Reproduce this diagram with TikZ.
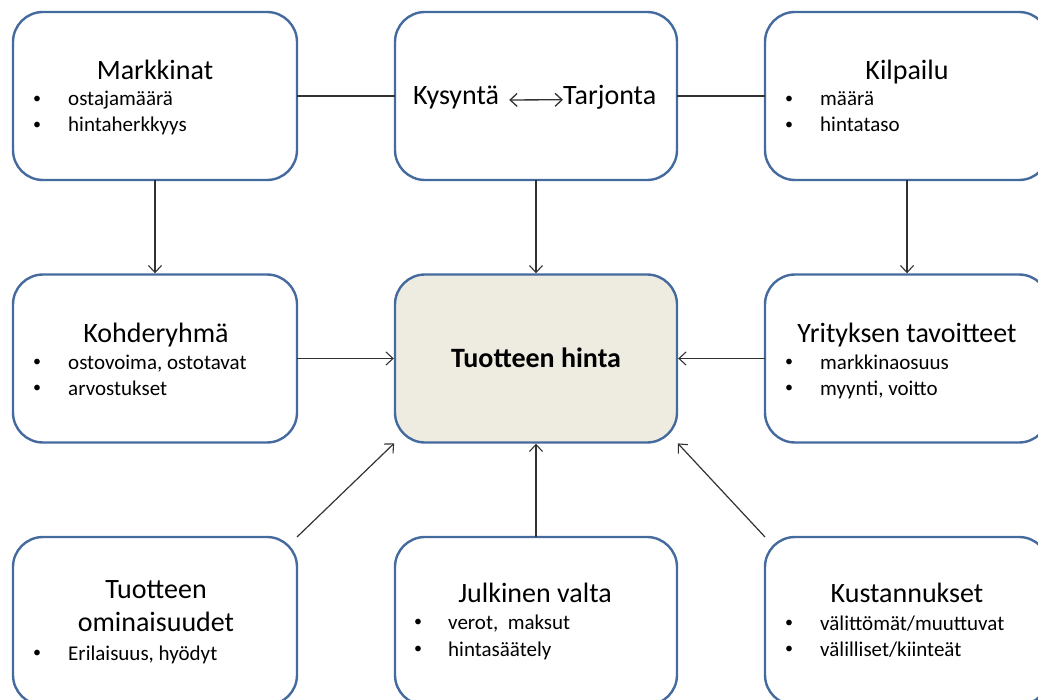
\documentclass[tikz,border=0pt]{standalone}
\usepackage{fontspec}
\setmainfont{Carlito}
\usetikzlibrary{arrows.meta}
\definecolor{boxline}{RGB}{68,106,158}
\definecolor{centerfill}{RGB}{238,236,225}
\definecolor{linkgray}{RGB}{50,50,50}
\begin{document}
\begin{tikzpicture}[x=1pt,y=-1pt,
  factorbox/.style={draw=boxline, line width=2.4pt, fill=white, rounded corners=30pt,
    minimum width=284pt, minimum height=168pt, inner sep=0pt, outer sep=0pt},
  centerbox/.style={factorbox, fill=centerfill, minimum width=282pt},
  title/.style={font=\fontsize{28}{34}\selectfont, anchor=base, inner sep=0pt},
  item/.style={font=\fontsize{21}{25}\selectfont, anchor=base west, inner sep=0pt},
  dot/.style={font=\fontsize{16}{20}\selectfont, anchor=base, inner sep=0pt, yshift=2.6pt},
  link/.style={draw=linkgray, line width=1.2pt},
  flow/.style={link, -{Straight Barb[length=7pt,width=13pt,line width=1.1pt]}, shorten >=1.2pt},
  swap/.style={link, line width=1.3pt,
    {Straight Barb[length=7pt,width=13pt,line width=1.3pt]}-{Straight Barb[length=7pt,width=13pt,line width=1.3pt]}}
]
\useasboundingbox (0,0) rectangle (1038,700);
\clip (0,0) rectangle (1038,700);

% boxes
\node[factorbox] (mark) at (155,96) {};
\node[factorbox, minimum width=282pt] (sd) at (536,96) {};
\node[factorbox] (kil) at (907,96) {};
\node[factorbox] (kohde) at (155,358.5) {};
\node[centerbox] (hinta) at (536,358.5) {};
\node[factorbox] (yri) at (907,358.5) {};
\node[factorbox] (omin) at (155,621) {};
\node[factorbox, minimum width=282pt] (julk) at (536,621) {};
\node[factorbox] (kust) at (907,621) {};

% connectors
\draw[link] (mark.east) -- (sd.west);
\draw[link] (sd.east) -- (kil.west);
\draw[flow] (mark.south) -- (kohde.north);
\draw[flow] (sd.south) -- (hinta.north);
\draw[flow] (kil.south) -- (yri.north);
\draw[flow] (kohde.east) -- (hinta.west);
\draw[flow] (yri.west) -- (hinta.east);
\draw[flow] (omin.north east) -- (hinta.south west);
\draw[flow] (julk.north) -- (hinta.south);
\draw[flow] (kust.north west) -- (hinta.south east);

% Markkinat
\node[title] (markT) at (155,80) {Markkinat};
\node[dot] (markD1) at (37,106) {•};
\node[item] (markI1) at (68,106) {ostajamäärä};
\node[dot] (markD2) at (37,132) {•};
\node[item] (markI2) at (68,132) {hintaherkkyys};

% Kysyntä <-> Tarjonta
\node[title, anchor=base west] (kys) at (413,105) {Kysyntä};
\node[title, anchor=base west] (tar) at (563,105) {Tarjonta};
\draw[swap, shorten <=10pt, transform canvas={yshift=-2pt}] (kys.east) -- (tar.west);

% Kilpailu
\node[title] (kilT) at (907,80) {Kilpailu};
\node[dot] (kilD1) at (789,106) {•};
\node[item] (kilI1) at (820,106) {määrä};
\node[dot] (kilD2) at (789,132) {•};
\node[item] (kilI2) at (820,132) {hintataso};

% Kohderyhmä
\node[title] (kohdeT) at (156,342) {Kohderyhmä};
\node[dot] (kohdeD1) at (37,369) {•};
\node[item] (kohdeI1) at (68,369) {ostovoima,\ ostotavat};
\node[dot] (kohdeD2) at (37,395) {•};
\node[item] (kohdeI2) at (68,395) {arvostukset};

% Tuotteen hinta
\node[title, font=\fontsize{28}{34}\selectfont\bfseries] (hintaT) at (536,367) {Tuotteen hinta};

% Yrityksen tavoitteet
\node[title] (yriT) at (907,342) {Yrityksen tavoitteet};
\node[dot] (yriD1) at (789,369) {•};
\node[item] (yriI1) at (820,369) {markkinaosuus};
\node[dot] (yriD2) at (789,395) {•};
\node[item] (yriI2) at (820,395) {myynti,\ voitto};

% Tuotteen ominaisuudet
\node[title] (ominT1) at (156,598) {Tuotteen};
\node[title] (ominT2) at (156,631) {ominaisuudet};
\node[dot] (ominD1) at (37,660) {•};
\node[item] (ominI1) at (68,660) {Erilaisuus, hyödyt};

% Julkinen valta
\node[title] (julkT) at (535,602) {Julkinen valta};
\node[dot] (julkD1) at (418,629) {•};
\node[item] (julkI1) at (448,629) {verot,\ \ maksut};
\node[dot] (julkD2) at (418,656) {•};
\node[item] (julkI2) at (448,656) {hintasäätely};

% Kustannukset
\node[title] (kustT) at (907,602) {Kustannukset};
\node[dot] (kustD1) at (789,630) {•};
\node[item] (kustI1) at (820,630) {välittömät/muuttuvat};
\node[dot] (kustD2) at (789,656) {•};
\node[item] (kustI2) at (820,656) {välilliset/kiinteät};
\end{tikzpicture}
\end{document}
